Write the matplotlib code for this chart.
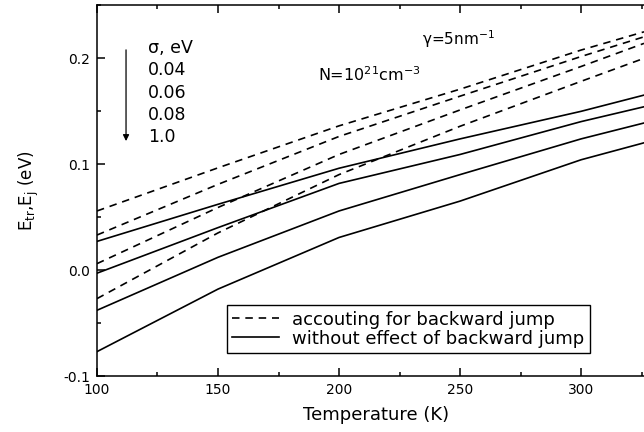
import numpy as np
import matplotlib
matplotlib.use("Agg")
import matplotlib.pyplot as plt
from matplotlib.ticker import MultipleLocator, FormatStrFormatter

plt.rcParams['font.family'] = ['DejaVu Sans']
plt.rcParams['mathtext.fontset'] = 'dejavusans'
plt.rcParams['mathtext.default'] = 'regular'

# temperatures (K) where the curves were read
temps = [100, 150, 200, 250, 300, 326]

# dashed: accounting for backward jump (sigma = 0.04, 0.06, 0.08, 1.0)
dash_004 = [0.0557, 0.0964, 0.136, 0.1706, 0.2075, 0.2247]
dash_006 = [0.033, 0.0808, 0.126, 0.164, 0.2014, 0.220]
dash_008 = [0.006, 0.059, 0.109, 0.151, 0.192, 0.2138]
dash_010 = [-0.027, 0.035, 0.090, 0.1356, 0.178, 0.1997]

# solid: without effect of backward jump
solid_004 = [0.027, 0.062, 0.096, 0.1237, 0.1497, 0.165]
solid_006 = [-0.003, 0.040, 0.0817, 0.109, 0.140, 0.154]
solid_008 = [-0.038, 0.012, 0.0557, 0.090, 0.1237, 0.1387]
solid_010 = [-0.077, -0.018, 0.0307, 0.065, 0.104, 0.120]

sigma_labels = ["0.04", "0.06", "0.08", "1.0"]

fig = plt.figure(figsize=(6.44, 4.32), dpi=100)
ax = fig.add_axes([0.1506, 0.1296, 0.8494, 0.8588])

dash_style = (0, (4.5, 3.5))
for i, ys in enumerate([dash_004, dash_006, dash_008, dash_010]):
    ax.plot(temps, ys, color='black', lw=1.2, linestyle=dash_style,
            label='accouting for backward jump' if i == 0 else None)
for i, ys in enumerate([solid_004, solid_006, solid_008, solid_010]):
    ax.plot(temps, ys, color='black', lw=1.2,
            label='without effect of backward jump' if i == 0 else None)

ax.set_xlim(100, 326)
ax.set_ylim(-0.1, 0.25)
ax.xaxis.set_major_locator(MultipleLocator(50))
ax.xaxis.set_minor_locator(MultipleLocator(25))
ax.yaxis.set_major_locator(MultipleLocator(0.1))
ax.yaxis.set_minor_locator(MultipleLocator(0.05))
ax.yaxis.set_major_formatter(FormatStrFormatter('%.1f'))
ax.tick_params(which='both', direction='in', top=True, right=False,
               labelsize=10, width=1.1)
ax.tick_params(which='major', length=5.5, pad=5)
ax.tick_params(which='minor', length=3)
ax.spines['right'].set_visible(False)
for s in ['left', 'bottom', 'top']:
    ax.spines[s].set_linewidth(1.1)

ax.set_xlabel('Temperature (K)', fontsize=13)
ax.xaxis.set_label_coords(0.51, -0.08)
ax.set_ylabel(r'E$_{tr}$,E$_j$ (eV)', fontsize=12, labelpad=16)

# sigma annotation with arrow
ax.annotate('', xy=(112, 0.119), xytext=(112, 0.2103),
            arrowprops=dict(arrowstyle='-|>', color='black', lw=0.9,
                            mutation_scale=9))
ax.text(121, 0.2094, '\u03c3, eV', fontsize=12.5, va='center')
for lab, yv in zip(sigma_labels, [0.1887, 0.167, 0.1465, 0.1255]):
    ax.text(121, yv, lab, fontsize=12.5, va='center')

ax.text(234.3, 0.2175, r'$\gamma$=5nm$^{-1}$', fontsize=11, va='center')
ax.text(191.3, 0.1845, r'N=10$^{21}$cm$^{-3}$', fontsize=11.5, va='center')

leg = ax.legend(loc='lower left', bbox_to_anchor=(0.2377, 0.062),
                fontsize=13, fancybox=False, framealpha=1,
                edgecolor='black', handlelength=2.6, handletextpad=0.7,
                borderpad=0.3, labelspacing=0.05, borderaxespad=0)
leg.get_frame().set_linewidth(1.0)

fig.savefig('out.png', dpi=100)
